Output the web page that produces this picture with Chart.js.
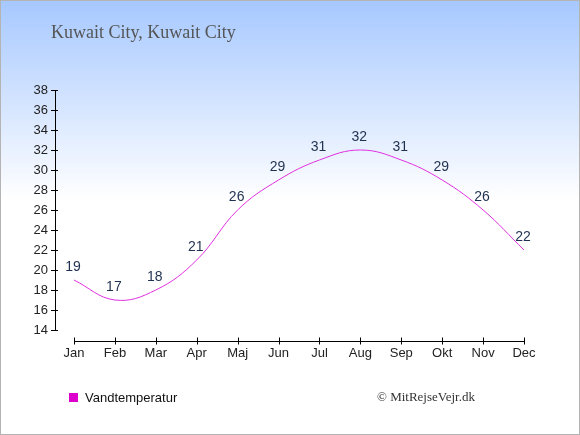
<!DOCTYPE html>
<html>
<head>
<meta charset="utf-8">
<script src="https://cdn.jsdelivr.net/npm/chart.js@4/dist/chart.umd.min.js"></script>
<style>
  body { margin: 0; }
  #wrap {
    position: relative;
    width: 580px;
    height: 435px;
    background: linear-gradient(to bottom, #a6c8ff 0px, #ffffff 200px, #ffffff 435px);
    overflow: hidden;
  }
  #frame {
    position: absolute; left: 0; top: 0; width: 580px; height: 435px;
    box-sizing: border-box; border: 1px solid #b4b4b4;
    pointer-events: none;
  }
  #chart { position: absolute; left: 0; top: 0; }
  .title {
    position: absolute; left: 51px; top: 22px;
    font: 18px "Liberation Serif", serif; color: #555555; line-height: 20px;
  }
  .legend {
    position: absolute; left: 69px; top: 389px;
    font: 13px "Liberation Sans", Arial, sans-serif; color: #111111; line-height: 18px;
  }
  .legend span.box {
    display: inline-block; width: 9px; height: 9px; background: #dd00cc;
    margin-right: 7px; vertical-align: 0px;
  }
  .copy {
    position: absolute; left: 377px; top: 388px;
    font: 13px "Liberation Serif", serif; color: #333333; line-height: 18px;
  }
</style>
</head>
<body>
<div id="wrap">
  <canvas id="chart" width="580" height="435"></canvas>
  <div class="title">Kuwait City, Kuwait City</div>
  <div class="legend"><span class="box"></span>Vandtemperatur</div>
  <div class="copy">© MitRejseVejr.dk</div>
  <div id="frame"></div>
</div>
<script>
const months = ["Jan", "Feb", "Mar", "Apr", "Maj", "Jun", "Jul", "Aug", "Sep", "Okt", "Nov", "Dec"];
const waterTemp = [19, 17, 18, 21, 26, 29, 31, 32, 31, 29, 26, 22];
const yMin = 14;
const yMax = 38;
const yStep = 2;

// axis lines are drawn by hand: the y axis sits left of Jan, the x axis a bit below 14
const axisLines = {
  id: "axisLines",
  afterDraw(chart) {
    const { ctx, scales } = chart;
    const x = scales.x;
    const y = scales.y;
    const yAxisX = 55.5;
    const xAxisY = 341.5;
    ctx.save();
    ctx.strokeStyle = "#000000";
    ctx.lineWidth = 1;
    ctx.beginPath();
    ctx.moveTo(yAxisX, Math.round(y.getPixelForValue(yMax)) + 0.5);
    ctx.lineTo(yAxisX, Math.round(y.getPixelForValue(yMin)) + 0.5);
    for (let v = yMin; v <= yMax; v += yStep) {
      const py = Math.round(y.getPixelForValue(v)) + 0.5;
      ctx.moveTo(51, py);
      ctx.lineTo(58, py);
    }
    ctx.moveTo(Math.round(x.getPixelForValue(0)) + 0.5, xAxisY);
    ctx.lineTo(Math.round(x.getPixelForValue(months.length - 1)) + 0.5, xAxisY);
    for (let i = 0; i < months.length; i++) {
      const px = Math.round(x.getPixelForValue(i)) + 0.5;
      ctx.moveTo(px, xAxisY - 4);
      ctx.lineTo(px, xAxisY + 3);
    }
    ctx.stroke();
    ctx.restore();
  },
};

const valueLabels = {
  id: "valueLabels",
  afterDatasetsDraw(chart) {
    const { ctx } = chart;
    const meta = chart.getDatasetMeta(0);
    const values = chart.data.datasets[0].data;
    ctx.save();
    ctx.font = '14px "Liberation Sans", Arial, sans-serif';
    ctx.fillStyle = "#1f3050";
    ctx.textAlign = "center";
    ctx.textBaseline = "middle";
    meta.data.forEach((point, i) => {
      ctx.fillText(String(values[i]), point.x - 1, point.y - 13);
    });
    ctx.restore();
  },
};

new Chart(document.getElementById("chart"), {
  type: "line",
  data: {
    labels: months,
    datasets: [
      {
        label: "Vandtemperatur",
        data: waterTemp,
        borderColor: "#e030e0",
        borderWidth: 1,
        tension: 0.4,
        pointRadius: 0,
        fill: false,
      },
    ],
  },
  options: {
    responsive: false,
    animation: false,
    layout: { padding: { top: 90, right: 56, bottom: 0, left: 0 } },
    plugins: {
      legend: { display: false },
      tooltip: { enabled: false },
    },
    scales: {
      x: {
        offset: false,
        grid: { display: false, drawTicks: false },
        border: { display: false },
        ticks: {
          color: "#222222",
          padding: 16,
          maxRotation: 0,
          autoSkip: false,
          font: { family: '"Liberation Sans", Arial, sans-serif', size: 13 },
        },
        afterFit: (scale) => { scale.height = 105; },
      },
      y: {
        min: yMin,
        max: yMax,
        grid: { display: false, drawTicks: false },
        border: { display: false },
        ticks: {
          stepSize: yStep,
          color: "#222222",
          padding: 26,
          font: { family: '"Liberation Sans", Arial, sans-serif', size: 13 },
        },
        afterFit: (scale) => { scale.width = 74; },
      },
    },
  },
  plugins: [axisLines, valueLabels],
});
</script>
</body>
</html>
